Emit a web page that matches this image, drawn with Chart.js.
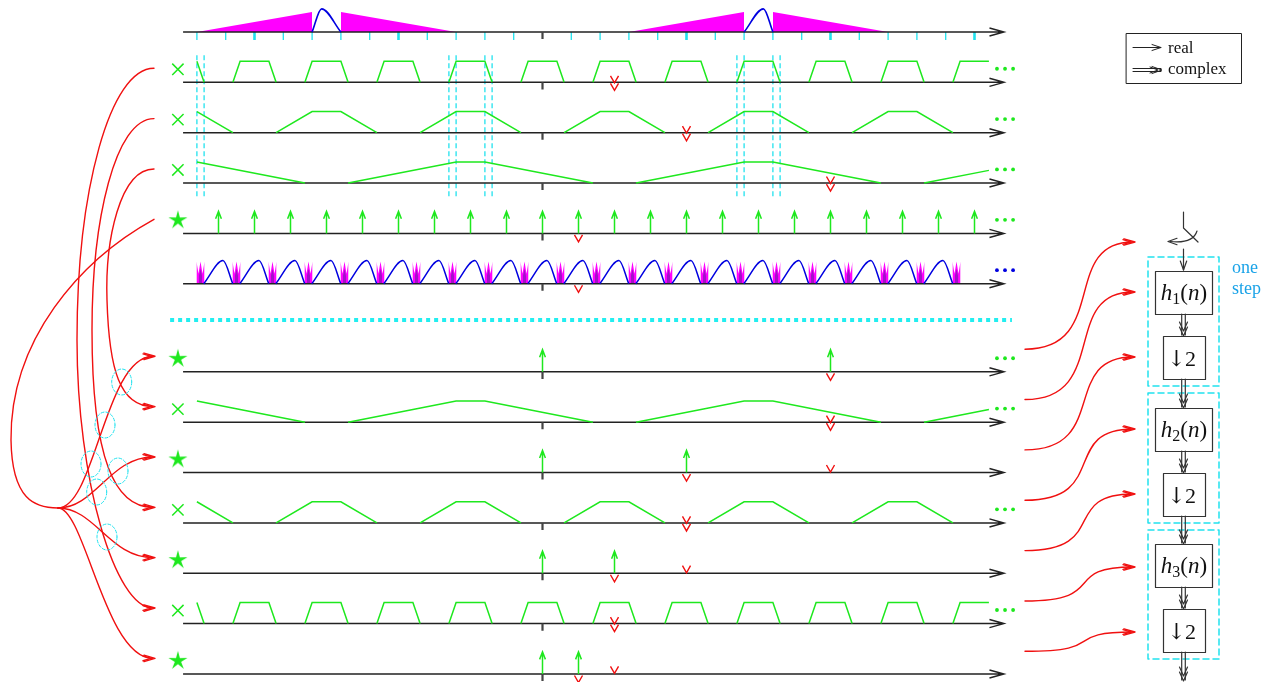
<!DOCTYPE html>
<html>
<head>
<meta charset="utf-8">
<title>Filter bank spectra</title>
<script src="https://cdn.jsdelivr.net/npm/chart.js@4/dist/chart.umd.min.js"></script>
<style>
  html, body { margin: 0; padding: 0; background: #fff; overflow: hidden; }
  canvas { display: block; }
</style>
</head>
<body>
<canvas id="diagram" width="1271" height="682"></canvas>
<script>
// frequency axis: 0 is the centre tick, 1 unit = finest band spacing

// row 0: input spectrum (magenta ramps + blue band)
const rampZeroAt = [-12, -3, 3, 12];
const rampFullAt = [-8, -7, 7, 8];
const bandStart = [-8, 7];
const bandTop = [-7.67, 7.67];
const bandEnd = [-7, 8];
const gridTicks = [-12, -11, -10, -9, -8, -7, -6, -5, -4, -3, -2, -1, 1, 2, 3, 4, 5, 6, 7, 8, 9, 10, 11, 12, 13, 14, 15];
const gridTicksBold = [-10, -5, 5, 10, 15];
const guideLines = [-12, -11.75, -3.25, -3, -2, -1.75, 6.75, 7, 8, 8.25];

// filter passbands (trapezoid centres) and their foot half widths
const fineCenters = [-12.5, -10, -7.5, -5, -2.5, 0, 2.5, 5, 7.5, 10, 12.5, 15];
const midCenters = [-12.5, -7.5, -2.5, 2.5, 7.5, 12.5];
const coarseCenters = [-12.5, -2.5, 7.5, 17.5];
const footHalf = { fine: 0.75, mid: 1.75, coarse: 4.25 };
const topHalf = 0.5;

// row 4: sampling comb, row 5: aliased spectrum
const combTeeth = [-11.25, -10, -8.75, -7.5, -6.25, -5, -3.75, -2.5, -1.25, 0, 1.25, 2.5, 3.75, 5, 6.25, 7.5, 8.75, 10, 11.25, 12.5, 13.75, 15];
const aliasSpikes = [-11.875, -10.625, -9.375, -8.125, -6.875, -5.625, -4.375, -3.125, -1.875, -0.625, 0.625, 1.875, 3.125, 4.375, 5.625, 6.875, 8.125, 9.375, 10.625, 11.875, 13.125, 14.375];

// kind of each row, top to bottom
const rowKind = ['spectrum', 'fine', 'mid', 'coarse', 'comb', 'alias', 'pulse', 'coarse', 'pulse', 'mid', 'pulse', 'fine', 'pulse'];
const pulseRows = [6, 8, 10, 12];
const pulsePos = [[0, 10], [0, 5], [0, 2.5], [0, 1.25]];

// red down-arrow marks
const markRow = [1, 2, 3, 4, 5, 6, 7, 8, 8, 9, 10, 10, 11, 12, 12];
const markAt = [2.5, 5, 10, 1.25, 1.25, 10, 10, 5, 10, 5, 2.5, 5, 2.5, 1.25, 2.5];
const markKind = ['double', 'double', 'double', 'below', 'below', 'below', 'double', 'below', 'above', 'double', 'below', 'above', 'double', 'below', 'above'];

const crossRows = [1, 2, 3, 7, 9, 11];
const starRows = [4, 6, 8, 10, 12];
const greenDotRows = [1, 2, 3, 4, 6, 7, 9, 11];
const blueDotRows = [5];

const GREEN = '#1ee81e', RED = '#f01010', MAGENTA = '#ff00ff', BLUE = '#0000e0',
      CYAN = '#22e2ee', DARK = '#222222';

const H = 0.42;                       // filter / arrow height in row units
const lvl = r => r < 6 ? r : r + 0.75; // row baseline level
const gap = { x: NaN, y: NaN };

const datasets = [];
function add(ds) {
  datasets.push(Object.assign({
    showLine: true, pointRadius: 0, borderWidth: 1.5, fill: false, tension: 0,
    borderCapStyle: 'butt', borderJoinStyle: 'miter'
  }, ds));
}

function clip(pts, lo, hi) {
  const out = [];
  const cut = (p, q, x) => ({ x, y: p.y + (q.y - p.y) * (x - p.x) / (q.x - p.x) });
  for (let i = 0; i < pts.length - 1; i++) {
    let a = pts[i], b = pts[i + 1];
    if (b.x < lo || a.x > hi) continue;
    if (a.x < lo) a = cut(a, b, lo);
    if (b.x > hi) b = cut(a, b, hi);
    const last = out[out.length - 1];
    if (!last || last.x !== a.x || last.y !== a.y) out.push(a);
    out.push(b);
  }
  return out;
}

// dotted separator
add({ data: [{ x: -12.93, y: 5.72 }, { x: 16.3, y: 5.72 }], borderColor: '#22eef0', borderWidth: 4, borderDash: [4, 4] });

// cyan guide lines
const guides = [];
guideLines.forEach(g => guides.push({ x: g, y: 0.46 }, { x: g, y: 3.3 }, gap));
add({ data: guides, borderColor: CYAN, borderWidth: 1.3, borderDash: [5, 3] });

// row 0 magenta ramps
rampZeroAt.forEach((z, i) => {
  const f = rampFullAt[i];
  const pts = z < f
    ? [{ x: z, y: 0 }, { x: f, y: -0.4 }, { x: f, y: 0 }]
    : [{ x: f, y: 0 }, { x: f, y: -0.4 }, { x: z, y: 0 }];
  add({ data: pts, borderColor: 'rgba(0,0,0,0)', borderWidth: 1, backgroundColor: MAGENTA, fill: { value: 0 } });
});

// row 0 ticks
const thin = [], bold = [];
gridTicks.forEach(t => (gridTicksBold.includes(t) ? bold : thin).push({ x: t, y: 0 }, { x: t, y: 0.16 }, gap));
add({ data: thin, borderColor: CYAN, borderWidth: 1.3 });
add({ data: bold, borderColor: CYAN, borderWidth: 2.6 });

// row 5 aliasing crowns
const L5 = lvl(5);
aliasSpikes.forEach(s => {
  add({
    data: [{ x: s - 0.14, y: L5 }, { x: s - 0.14, y: L5 - 0.44 }, { x: s - 0.07, y: L5 - 0.2 }, { x: s, y: L5 - 0.44 },
           { x: s + 0.07, y: L5 - 0.2 }, { x: s + 0.14, y: L5 - 0.44 }, { x: s + 0.14, y: L5 }],
    borderColor: 'rgba(0,0,0,0)', borderWidth: 1, backgroundColor: MAGENTA, fill: { value: L5 }
  });
  add({
    data: [{ x: s - 0.06, y: L5 }, { x: s - 0.06, y: L5 - 0.14 }, { x: s, y: L5 - 0.3 }, { x: s + 0.06, y: L5 - 0.14 }, { x: s + 0.06, y: L5 }],
    borderColor: 'rgba(0,0,0,0)', borderWidth: 1, backgroundColor: '#a012c8', fill: { value: L5 }
  });
});

// axes with arrow tips and centre ticks
const axes = [], centre = [];
rowKind.forEach((k, r) => {
  const L = lvl(r);
  axes.push({ x: -12.48, y: L }, { x: 16.02, y: L }, gap,
            { x: 15.52, y: L - 0.08 }, { x: 16.02, y: L }, { x: 15.52, y: L + 0.08 }, gap);
  centre.push({ x: 0, y: L }, { x: 0, y: L + 0.14 }, gap);
});
add({ data: axes, borderColor: DARK, borderWidth: 1.5 });
add({ data: centre, borderColor: '#444', borderWidth: 2.2 });

// green trapezoid filters
const centresOf = { fine: fineCenters, mid: midCenters, coarse: coarseCenters };
const traps = [];
rowKind.forEach((k, r) => {
  if (!centresOf[k]) return;
  const L = lvl(r), f = footHalf[k];
  centresOf[k].forEach(c => {
    const run = clip([{ x: c - f, y: L }, { x: c - topHalf, y: L - H }, { x: c + topHalf, y: L - H }, { x: c + f, y: L }], -12, 15.5);
    if (run.length) traps.push(...run, gap);
  });
});
add({ data: traps, borderColor: GREEN, borderWidth: 1.5 });

// green impulses
const impulses = [];
function impulse(x, L) {
  impulses.push({ x, y: L }, { x, y: L - 0.43 }, gap,
                { x: x - 0.1, y: L - 0.29 }, { x, y: L - 0.44 }, { x: x + 0.1, y: L - 0.29 }, gap);
}
combTeeth.forEach(x => impulse(x, lvl(4)));
pulseRows.forEach((r, i) => pulsePos[i].forEach(x => impulse(x, lvl(r))));
add({ data: impulses, borderColor: GREEN, borderWidth: 1.5 });

// blue bands
bandStart.forEach((s, i) => {
  add({ data: [{ x: s, y: 0 }, { x: bandTop[i], y: -0.46 }, { x: bandEnd[i], y: 0 }],
        borderColor: BLUE, borderWidth: 1.6, cubicInterpolationMode: 'monotone' });
});
for (let k = 0; k < aliasSpikes.length - 1; k++) {
  const s = aliasSpikes[k], n = aliasSpikes[k + 1];
  add({ data: [{ x: s + 0.11, y: L5 }, { x: s + 0.78, y: L5 - 0.46 }, { x: n - 0.13, y: L5 }],
        borderColor: BLUE, borderWidth: 1.5, cubicInterpolationMode: 'monotone' });
}

// red marks
const vees = [];
function vee(x, t) { vees.push({ x: x - 0.14, y: t }, { x, y: t + 0.14 }, { x: x + 0.14, y: t }, gap); }
markRow.forEach((r, i) => {
  const L = lvl(r), x = markAt[i];
  if (markKind[i] === 'below') vee(x, L + 0.03);
  else if (markKind[i] === 'above') vee(x, L - 0.15);
  else { vee(x, L - 0.13); vee(x, L + 0.02); }
});
add({ data: vees, borderColor: RED, borderWidth: 1.4 });

// row markers
function starImage(r, color) {
  const c = document.createElement('canvas');
  c.width = c.height = 2 * r + 2;
  const g = c.getContext('2d');
  g.fillStyle = color;
  g.beginPath();
  for (let i = 0; i < 10; i++) {
    const a = -Math.PI / 2 + i * Math.PI / 5, rr = i % 2 ? r * 0.33 : r;
    g.lineTo(r + 1 + rr * Math.cos(a), r + 1 + rr * Math.sin(a));
  }
  g.closePath();
  g.fill();
  return c;
}
add({ data: crossRows.map(r => ({ x: -12.66, y: lvl(r) - 0.26 })), showLine: false,
      pointStyle: 'crossRot', pointRadius: 8, borderColor: GREEN, borderWidth: 1.5 });
add({ data: starRows.map(r => ({ x: -12.66, y: lvl(r) - 0.26 })), showLine: false,
      pointStyle: starImage(10, GREEN), pointRadius: 10 });

const dotX = [15.78, 16.06, 16.34];
add({ data: greenDotRows.flatMap(r => dotX.map(x => ({ x, y: lvl(r) - 0.27 }))), showLine: false,
      pointStyle: 'circle', pointRadius: 1.9, backgroundColor: GREEN, borderWidth: 0 });
add({ data: blueDotRows.flatMap(r => dotX.map(x => ({ x, y: lvl(r) - 0.27 }))), showLine: false,
      pointStyle: 'circle', pointRadius: 1.9, backgroundColor: BLUE, borderWidth: 0 });

datasets.forEach((d, i) => { d.order = datasets.length - i; });

// ---- annotation layer: routing curves, pipeline, legend ----
function head(ctx, x, y, dx, dy, len, half) {
  const bx = x - dx * len, by = y - dy * len;
  ctx.beginPath();
  ctx.moveTo(bx - dy * half, by + dx * half);
  ctx.lineTo(x, y);
  ctx.lineTo(bx + dy * half, by - dx * half);
  ctx.stroke();
}
function bez(ctx, p) {
  ctx.beginPath();
  ctx.moveTo(p[0][0], p[0][1]);
  for (let i = 1; i < p.length; i += 3) ctx.bezierCurveTo(p[i][0], p[i][1], p[i + 1][0], p[i + 1][1], p[i + 2][0], p[i + 2][1]);
  ctx.stroke();
}
function dblDown(ctx, x, y0, y1) {
  ctx.beginPath();
  ctx.moveTo(x - 1.8, y0); ctx.lineTo(x - 1.8, y1 - 1);
  ctx.moveTo(x + 1.8, y0); ctx.lineTo(x + 1.8, y1 - 1);
  ctx.stroke();
  head(ctx, x, y1, 0, 1, 9, 4);
  head(ctx, x, y1 - 5, 0, 1, 9, 4);
}
function mathLabel(ctx, cx, cy, sub) {
  const serif = '"Liberation Serif", "DejaVu Serif", serif';
  const parts = [['h', 'italic 23px ' + serif, 0], [sub, '16px ' + serif, 4], ['(', '23px ' + serif, 0],
                 ['n', 'italic 23px ' + serif, 0], [')', '23px ' + serif, 0]];
  let w = 0;
  parts.forEach(p => { ctx.font = p[1]; p.w = ctx.measureText(p[0]).width; w += p.w; });
  let x = cx - w / 2;
  parts.forEach(p => { ctx.font = p[1]; ctx.fillText(p[0], x, cy + 7 + p[2]); x += p.w; });
}

const pipeBoxes = [
  { x0: 1155, y0: 271, x1: 1212, y1: 314, sub: '1' },
  { x0: 1163, y0: 336, x1: 1205, y1: 379 },
  { x0: 1155, y0: 408, x1: 1212, y1: 451, sub: '2' },
  { x0: 1163, y0: 473, x1: 1205, y1: 516 },
  { x0: 1155, y0: 544, x1: 1212, y1: 587, sub: '3' },
  { x0: 1163, y0: 609, x1: 1205, y1: 652 }
];
const stepFrames = [[257, 386], [393, 523], [530, 659]];
const pipeInputs = [242, 292, 357, 429, 494, 567, 632];

const overlay = {
  id: 'overlay',
  afterDatasetsDraw(chart) {
    const ctx = chart.ctx, sy = chart.scales.y;
    const rowY = (r, off) => sy.getPixelForValue(lvl(r) - off);
    ctx.save();
    ctx.lineCap = 'round';
    ctx.lineJoin = 'round';

    // left routing curves
    ctx.strokeStyle = RED;
    ctx.lineWidth = 1.4;
    const y = r => rowY(r, 0.28), t = r => rowY(r, 0.31);
    bez(ctx, [[154, y(1)], [110, y(1)], [77, 190], [77, 340], [77, 480], [115, t(11)], [153, t(11)]]);
    bez(ctx, [[154, y(2)], [115, y(2)], [92, 220], [92, 330], [92, 460], [115, t(9)], [153, t(9)]]);
    bez(ctx, [[154, y(3)], [120, y(3)], [105, 240], [107, 300], [109, 370], [120, t(7)], [153, t(7)]]);
    bez(ctx, [[154, y(4)], [80, 260], [10, 340], [11, 440], [12, 500], [35, 508], [58, 508]]);
    bez(ctx, [[58, 508], [95, 508], [105, t(6)], [153, t(6)]]);
    bez(ctx, [[58, 508], [95, 508], [110, t(8)], [153, t(8)]]);
    bez(ctx, [[58, 508], [95, 508], [110, t(10)], [153, t(10)]]);
    bez(ctx, [[58, 508], [85, 508], [105, t(12)], [153, t(12)]]);
    [6, 7, 8, 9, 10, 11, 12].forEach(r => { head(ctx, 155, t(r), 1, 0, 11, 3.2); head(ctx, 151, t(r), 1, 0, 8, 2.4); });

    // crossing markers
    ctx.strokeStyle = CYAN;
    ctx.lineWidth = 1;
    ctx.setLineDash([3, 2]);
    [[121.7, 382], [105, 425], [91, 464], [118, 471], [96.7, 492], [107, 537]].forEach(([cx, cy]) => {
      ctx.beginPath(); ctx.ellipse(cx, cy, 10, 13, 0, 0, 2 * Math.PI); ctx.stroke();
    });
    ctx.setLineDash([]);

    // right routing curves
    ctx.strokeStyle = RED;
    ctx.lineWidth = 1.4;
    [6, 7, 8, 9, 10, 11, 12].forEach((r, i) => {
      const ys = rowY(r, 0.45), ye = pipeInputs[i];
      bez(ctx, [[1025, ys], [1110, ys], [1060, ye], [1133, ye]]);
      head(ctx, 1135, ye, 1, 0, 11, 3.2);
      head(ctx, 1131, ye, 1, 0, 8, 2.4);
    });

    // pipeline
    ctx.strokeStyle = CYAN;
    ctx.lineWidth = 1.5;
    ctx.setLineDash([6, 4]);
    stepFrames.forEach(([a, b]) => ctx.strokeRect(1148, a, 71, b - a));
    ctx.setLineDash([]);

    ctx.strokeStyle = '#333';
    ctx.fillStyle = '#111';
    ctx.lineWidth = 1.2;
    ctx.beginPath(); ctx.moveTo(1183.5, 212); ctx.lineTo(1183.5, 228); ctx.lineTo(1198, 242); ctx.stroke();
    ctx.beginPath(); ctx.moveTo(1197, 231); ctx.quadraticCurveTo(1193, 244, 1170, 241.5); ctx.stroke();
    head(ctx, 1168, 241.5, -1, 0, 9, 3.2);
    ctx.beginPath(); ctx.moveTo(1183.5, 249); ctx.lineTo(1183.5, 270); ctx.stroke();
    head(ctx, 1183.5, 270, 0, 1, 9, 3.2);

    pipeBoxes.forEach((b, i) => {
      ctx.strokeRect(b.x0 + 0.5, b.y0 + 0.5, b.x1 - b.x0, b.y1 - b.y0);
      const cx = (b.x0 + b.x1) / 2 + 0.5, cy = (b.y0 + b.y1) / 2;
      if (b.sub) mathLabel(ctx, cx, cy, b.sub);
      else {
        ctx.font = '22px "DejaVu Serif", serif';
        ctx.textAlign = 'center';
        ctx.fillText('\u2193', cx - 8, cy + 8);
        ctx.font = '22px "Liberation Serif", serif';
        ctx.fillText('2', cx + 6, cy + 8);
        ctx.textAlign = 'left';
      }
      const next = pipeBoxes[i + 1];
      dblDown(ctx, 1183.5, b.y1, next ? next.y0 : 681);
    });

    ctx.fillStyle = '#1aa3e8';
    ctx.font = '18px "Liberation Serif", serif';
    ctx.fillText('one', 1232, 273);
    ctx.fillText('step', 1232, 294);

    // legend
    ctx.strokeStyle = '#222';
    ctx.lineWidth = 1;
    ctx.strokeRect(1126.5, 33.5, 115, 50);
    ctx.beginPath(); ctx.moveTo(1133, 47.5); ctx.lineTo(1161, 47.5); ctx.stroke();
    head(ctx, 1161, 47.5, 1, 0, 9, 3);
    ctx.beginPath();
    ctx.moveTo(1133, 68.5); ctx.lineTo(1161, 68.5);
    ctx.moveTo(1133, 71.5); ctx.lineTo(1161, 71.5);
    ctx.stroke();
    head(ctx, 1162, 70, 1, 0, 10, 3.5);
    head(ctx, 1158, 70, 1, 0, 8, 3);
    ctx.fillStyle = '#111';
    ctx.font = '17px "Liberation Serif", serif';
    ctx.fillText('real', 1168, 53);
    ctx.fillText('complex', 1168, 74);
    ctx.restore();
  }
};

new Chart(document.getElementById('diagram'), {
  type: 'scatter',
  data: { datasets },
  options: {
    responsive: false,
    animation: false,
    devicePixelRatio: 1,
    events: [],
    layout: { padding: 0, autoPadding: false },
    plugins: { legend: { display: false }, tooltip: { enabled: false } },
    scales: {
      x: { type: 'linear', min: -542.5 / 28.8, max: 728.5 / 28.8, display: false },
      y: { type: 'linear', min: -32 / 50.35, max: 650 / 50.35, reverse: true, display: false }
    }
  },
  plugins: [overlay]
});
</script>
</body>
</html>
